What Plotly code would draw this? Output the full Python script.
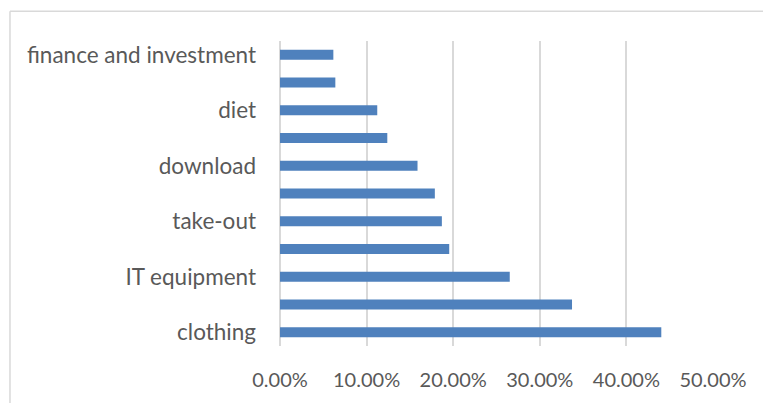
import plotly.graph_objects as go

# Categories from bottom to top (every other label is hidden in the reference)
categories = ["clothing", "item 2", "IT equipment", "item 4", "take-out", "item 6",
              "download", "item 8", "diet", "item 10", "finance and investment"]
shown_labels = ["clothing", "IT equipment", "take-out", "download", "diet",
                "finance and investment"]
values = [0.4403, 0.3372, 0.2653, 0.1954, 0.1869, 0.1788,
          0.1588, 0.1239, 0.1123, 0.0639, 0.0616]
x_ticks = [0, 0.1, 0.2, 0.3, 0.4, 0.5]

fig = go.Figure(go.Bar(
    x=values, y=categories, orientation="h",
    marker=dict(color="#4f81bd", line=dict(width=0)),
    width=0.36,
))

border = dict(color="#d9d9d9", width=1.5)
font_family = "Lato, 'Open Sans', sans-serif"
fig.update_layout(
    width=763, height=403,
    margin=dict(l=280, r=50, t=41, b=55),
    paper_bgcolor="white", plot_bgcolor="white",
    showlegend=False,
    font=dict(family=font_family, size=20, color="#595959"),
    shapes=[
        dict(type="line", xref="paper", yref="paper",
             x0=-0.6236, x1=2.0, y0=1.0977, y1=1.0977, line=border, layer="below"),
        dict(type="line", xref="paper", yref="paper",
             x0=-0.6236, x1=-0.6236, y0=-1.0, y1=1.0977, line=border, layer="below"),
    ],
)
fig.update_xaxes(
    range=[0, 0.5], tickvals=x_ticks, tickformat=".2%",
    showgrid=True, gridcolor="#d9d9d9", gridwidth=1.5,
    zeroline=True, zerolinecolor="#d9d9d9", zerolinewidth=1.5,
    showline=False, ticks="",
    ticklabelstandoff=20,
    tickfont=dict(size=20),
)
fig.update_yaxes(
    categoryorder="array", categoryarray=categories,
    tickvals=shown_labels, ticktext=shown_labels,
    showgrid=False, zeroline=False, showline=False, ticks="",
    ticklabelstandoff=23,
    tickfont=dict(size=22.5),
    range=[-0.5, 10.5],
)
fig.write_html(
    "out.html",
    config={"displayModeBar": False},
    post_script="document.body.style.margin='0';document.body.style.overflow='hidden';",
)
